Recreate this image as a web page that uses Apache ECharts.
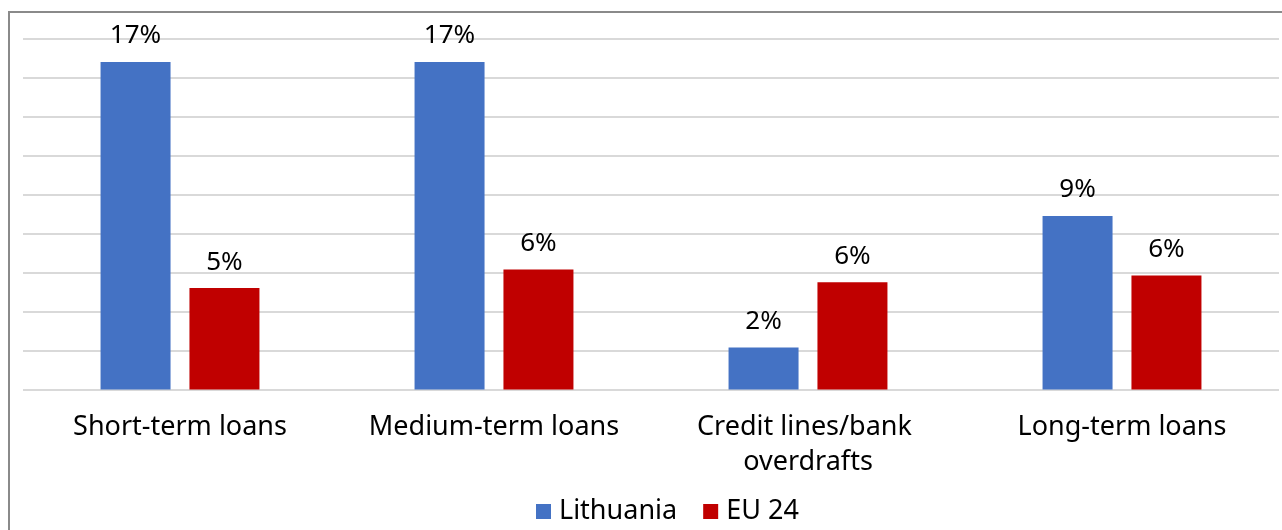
<!DOCTYPE html>
<html>
<head>
<meta charset="utf-8">
<script src="https://cdn.jsdelivr.net/npm/echarts@6/dist/echarts.min.js"></script>
<style>
  html, body { margin: 0; padding: 0; background: #fff; }
  #chart { width: 1282px; height: 530px; }
</style>
</head>
<body>
<div id="chart"></div>
<script>
// Loan types compared between Lithuania and the EU 24 (share, %)
const categories = ['Short-term loans', 'Medium-term loans', 'Credit lines/bank overdrafts', 'Long-term loans'];
const lithuania = [16.8, 16.8, 2.15, 8.9];
const eu24 = [5.2, 6.15, 5.5, 5.85];
const seriesNames = ['Lithuania', 'EU 24'];

const FONT = '"Noto Sans", "Open Sans", sans-serif';
const chart = echarts.init(document.getElementById('chart'), null, { renderer: 'canvas' });

const pctLabel = {
  show: true,
  position: 'top',
  distance: 13,
  color: '#000',
  fontFamily: FONT,
  fontSize: 26,
  formatter: p => Math.round(p.value) + '%'
};

chart.setOption({
  animation: false,
  textStyle: { fontFamily: FONT },
  graphic: [{
    type: 'rect',
    shape: { x: 9, y: 12, width: 1300, height: 600 },
    style: { fill: 'none', stroke: '#8a8a8a', lineWidth: 2 },
    z: 100
  }],
  grid: { left: 23, right: 3, top: 38.5, bottom: 140.5, containLabel: false },
  legend: {
    data: seriesNames,
    bottom: 0,
    left: 531,
    icon: 'rect',
    itemWidth: 15,
    itemHeight: 15,
    itemGap: 26,
    textStyle: { fontFamily: FONT, fontSize: 27, color: '#000', padding: [0, 0, 0, 3] }
  },
  xAxis: {
    type: 'category',
    data: categories,
    axisLine: { show: false },
    axisTick: { show: false },
    axisLabel: {
      interval: 0,
      margin: 20,
      fontFamily: FONT,
      fontSize: 27,
      color: '#000',
      lineHeight: 35,
      width: 290,
      overflow: 'break'
    }
  },
  yAxis: {
    type: 'value',
    min: 0,
    max: 18,
    interval: 2,
    axisLabel: { show: false },
    axisLine: { show: false },
    axisTick: { show: false },
    splitLine: { lineStyle: { color: '#d9d9d9', width: 2 } }
  },
  series: [
    {
      name: seriesNames[0],
      type: 'bar',
      data: lithuania,
      barWidth: 70,
      barGap: '27%',
      itemStyle: { color: '#4472C4' },
      label: pctLabel
    },
    {
      name: seriesNames[1],
      type: 'bar',
      data: eu24,
      barWidth: 70,
      barGap: '27%',
      itemStyle: { color: '#C00000' },
      label: pctLabel
    }
  ]
});
</script>
</body>
</html>
